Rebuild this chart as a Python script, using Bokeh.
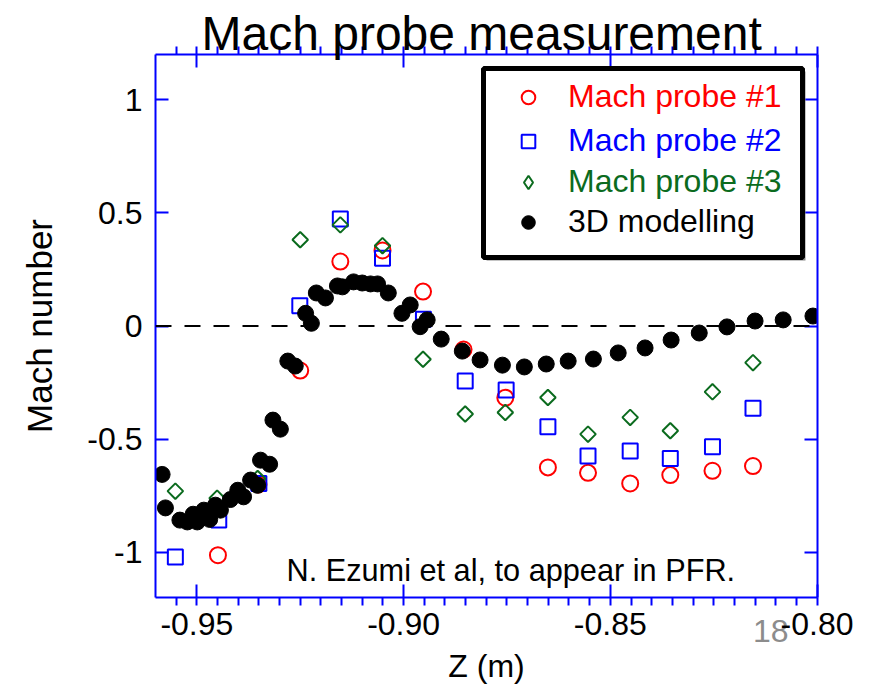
import math
from bokeh.plotting import figure
from bokeh.models import (Range1d, LinearAxis, SingleIntervalTicker, FixedTicker,
                          NumeralTickFormatter, CustomJSTickFormatter, Span, Label,
                          Legend, LegendItem, BoxAnnotation, Title, ColumnDataSource)
from bokeh.embed import file_html
from bokeh.resources import INLINE

# ---------------- data ----------------
probe1_z = [-0.9449, -0.9351, -0.9250, -0.9153, -0.9051, -0.8953, -0.8855, -0.8754,
            -0.8651, -0.8554, -0.8452, -0.8355, -0.8253, -0.8155]
probe1_m = [-1.013, -0.700, -0.197, 0.285, 0.334, 0.152, -0.104, -0.317,
            -0.625, -0.649, -0.696, -0.659, -0.640, -0.619]

probe2_z = [-0.9552, -0.9447, -0.9350, -0.9251, -0.9153, -0.9051, -0.8952, -0.8851,
            -0.8752, -0.8651, -0.8554, -0.8452, -0.8355, -0.8253, -0.8155]
probe2_m = [-1.021, -0.858, -0.696, 0.090, 0.473, 0.300, 0.030, -0.243,
            -0.283, -0.445, -0.575, -0.553, -0.586, -0.534, -0.364]

probe3_z = [-0.9552, -0.9451, -0.9353, -0.9250, -0.9153, -0.9051, -0.8953, -0.8851,
            -0.8754, -0.8651, -0.8554, -0.8452, -0.8355, -0.8253, -0.8155]
probe3_m = [-0.730, -0.761, -0.674, 0.381, 0.447, 0.355, -0.147, -0.389,
            -0.382, -0.316, -0.478, -0.404, -0.463, -0.291, -0.162]

model_z = [-0.9584, -0.9576, -0.9541, -0.9523, -0.9509, -0.9499, -0.9483, -0.9469,
           -0.9455, -0.9443, -0.9419, -0.9401, -0.9387, -0.9370, -0.9353, -0.9346,
           -0.9324, -0.9316, -0.9298, -0.9280, -0.9262, -0.9237, -0.9223, -0.9211,
           -0.9189, -0.9160, -0.9148, -0.9121, -0.9100, -0.9080, -0.9063, -0.9037,
           -0.9004, -0.8984, -0.8960, -0.8943, -0.8909, -0.8858, -0.8815, -0.8761,
           -0.8708, -0.8655, -0.8602, -0.8541, -0.8481, -0.8416, -0.8353, -0.8285,
           -0.8218, -0.8150, -0.8082, -0.8010]
model_m = [-0.656, -0.804, -0.858, -0.866, -0.832, -0.866, -0.814, -0.855,
           -0.792, -0.814, -0.767, -0.726, -0.755, -0.681, -0.704, -0.593,
           -0.611, -0.416, -0.456, -0.155, -0.177, 0.056, 0.012, 0.146,
           0.124, 0.177, 0.173, 0.195, 0.190, 0.186, 0.186, 0.146,
           0.056, 0.093, -0.003, 0.027, -0.058, -0.111, -0.150, -0.173,
           -0.181, -0.168, -0.155, -0.146, -0.119, -0.097, -0.062, -0.031,
           -0.004, 0.022, 0.027, 0.044]

series_labels = ["Mach probe #1", "Mach probe #2", "Mach probe #3", "3D modelling"]
y_ticks = [-1, -0.5, 0, 0.5, 1]
title_text = "Mach probe measurement"
x_title = "Z (m)"
y_title = "Mach number"
note_text = "N. Ezumi et al, to appear in PFR."
page_number = "18"
page_number_z = -0.8112

# ---------------- styling ----------------
FONT = "Liberation Sans"
RED = "#ff0000"
BLUE = "#0000ff"
GREEN = "#0b6b1e"
AXIS_BLUE = "#0000ff"

W, H = 875, 686
F_LEFT, F_RIGHT, F_TOP, F_BOTTOM = 155, 817, 54, 597
X0, X1 = -0.96, -0.7999
Y0, Y1 = -1.2, 1.2
LBL_H = 32  # measured text-box height of 32px tick labels


def px_to_x(px):
    return X0 + (px - F_LEFT) * (X1 - X0) / (F_RIGHT - F_LEFT)


def py_to_y(py):
    return Y1 - (py - F_TOP) * (Y1 - Y0) / (F_BOTTOM - F_TOP)


p = figure(width=W, height=H, output_backend="svg", toolbar_location=None,
           x_range=Range1d(X0, X1), y_range=Range1d(Y0, Y1),
           x_axis_location=None, y_axis_location=None,
           min_border_left=F_LEFT, min_border_right=W - F_RIGHT,
           min_border_top=F_TOP, min_border_bottom=H - F_BOTTOM)
p.grid.visible = False
p.outline_line_color = None
p.background_fill_color = "white"
p.border_fill_color = "white"

BLANK = CustomJSTickFormatter(code="return '';")


def style_axis(ax, show_labels, minor=True, lines=True):
    ax.axis_line_color = AXIS_BLUE if lines else None
    ax.axis_line_width = 2
    ax.major_tick_line_color = AXIS_BLUE if lines else None
    ax.major_tick_line_width = 2
    ax.major_tick_in = 13 if lines else 0
    ax.major_tick_out = 0
    ax.minor_tick_line_color = AXIS_BLUE if (minor and lines) else None
    ax.minor_tick_line_width = 2
    ax.minor_tick_in = 0
    ax.minor_tick_out = 8 if (minor and lines) else 0
    ax.major_label_text_font = FONT
    ax.major_label_text_color = "black"
    ax.axis_label_text_font = FONT
    ax.axis_label_text_font_style = "normal"
    ax.axis_label_text_color = "black"
    ax.axis_label_text_font_size = "32px"
    if show_labels:
        ax.major_label_text_font_size = "32px"
    else:
        ax.formatter = BLANK
        ax.major_label_text_font_size = "0px"
        ax.major_label_standoff = 0


x_ticker = SingleIntervalTicker(interval=0.05, num_minor_ticks=10)
y_ticker = FixedTicker(ticks=y_ticks, minor_ticks=[])

# bottom: ticks-only axis at the frame edge
xa = LinearAxis(ticker=x_ticker)
style_axis(xa, False)
p.add_layout(xa, "below")

# bottom: grey page number sharing the tick-label row
xc = LinearAxis(ticker=FixedTicker(ticks=[page_number_z], minor_ticks=[]),
                formatter=CustomJSTickFormatter(code="return '%s';" % page_number))
style_axis(xc, True, minor=False, lines=False)
xc.major_label_text_color = "#8c8c8c"
xc.major_label_standoff = 14
p.add_layout(xc, "below")

# bottom: tick labels and axis title
xb = LinearAxis(ticker=x_ticker, formatter=NumeralTickFormatter(format="0.00"),
                axis_label=x_title)
style_axis(xb, True, lines=False)
xb.major_label_standoff = -LBL_H
xb.axis_label_standoff = 10
p.add_layout(xb, "below")

xt = LinearAxis(ticker=x_ticker)
style_axis(xt, False)
p.add_layout(xt, "above")

yl = LinearAxis(ticker=y_ticker, formatter=NumeralTickFormatter(format="0.[0]"),
                axis_label=y_title)
style_axis(yl, True, minor=False)
yl.major_label_standoff = 13
yl.axis_label_standoff = 25
yl.axis_label_text_font_size = "35px"
p.add_layout(yl, "left")

yr = LinearAxis(ticker=y_ticker)
style_axis(yr, False, minor=False)
p.add_layout(yr, "right")

p.add_layout(Title(text=title_text, align="left", text_font=FONT,
                   text_font_size="48px", text_font_style="normal",
                   text_color="black", standoff=-27, offset=46), "above")

p.add_layout(Span(location=0, dimension="width", line_color="black",
                  line_width=2, line_dash="16 13"))

src3 = ColumnDataSource(data=dict(z=probe3_z, m=probe3_m))
r1 = p.scatter(probe1_z, probe1_m, marker="circle", size=16, fill_color=None,
               line_color=RED, line_width=2)
r2 = p.scatter(probe2_z, probe2_m, marker="square", size=15, fill_color=None,
               line_color=BLUE, line_width=2)
r3 = p.scatter("z", "m", source=src3, marker="square", angle=math.pi / 4, size=11,
               fill_color=None, line_color=GREEN, line_width=2)
r4 = p.scatter(model_z, model_m, marker="circle", size=16, fill_color="black",
               line_color="black")
# hidden legend key for probe #3 (its legend glyph is an upright diamond)
r3_key = p.scatter("z", "m", source=src3, marker="diamond", size=14, fill_color=None,
                   line_color=GREEN, line_width=2, visible=False)

# legend frame with shadow
BOX_L, BOX_R, BOX_T, BOX_B = 483, 802, 68, 257
p.add_layout(BoxAnnotation(left=px_to_x(BOX_L + 3), right=px_to_x(BOX_R + 3),
                           top=py_to_y(BOX_T + 3), bottom=py_to_y(BOX_B + 3),
                           fill_color="#8a8a8a", fill_alpha=1, line_color=None))
p.add_layout(BoxAnnotation(left=px_to_x(BOX_L), right=px_to_x(BOX_R),
                           top=py_to_y(BOX_T), bottom=py_to_y(BOX_B),
                           fill_color="white", fill_alpha=1, line_color="black",
                           line_width=5, line_alpha=1))

row_centers = [98, 142, 183, 223]
colors = [RED, BLUE, GREEN, "black"]
renderers = [r1, r2, r3_key, r4]
ITEM_H = 34
for lab, col, rend, rc in zip(series_labels, colors, renderers, row_centers):
    leg = Legend(items=[LegendItem(label=lab, renderers=[rend])],
                 location=(508 - F_LEFT, F_BOTTOM - (rc + ITEM_H // 2)),
                 padding=0, margin=0, spacing=0,
                 glyph_width=40, glyph_height=ITEM_H, label_height=ITEM_H,
                 label_standoff=20,
                 label_text_font=FONT, label_text_font_size="32px",
                 label_text_color=col, inactive_fill_alpha=0,
                 border_line_color=None, background_fill_alpha=0)
    p.add_layout(leg)

p.add_layout(Label(x=px_to_x(286), y=py_to_y(570), text=note_text,
                   text_align="left", text_baseline="alphabetic",
                   text_font=FONT, text_font_size="30.7px", text_color="black"))

open("out.html", "w").write(file_html(p, INLINE))
